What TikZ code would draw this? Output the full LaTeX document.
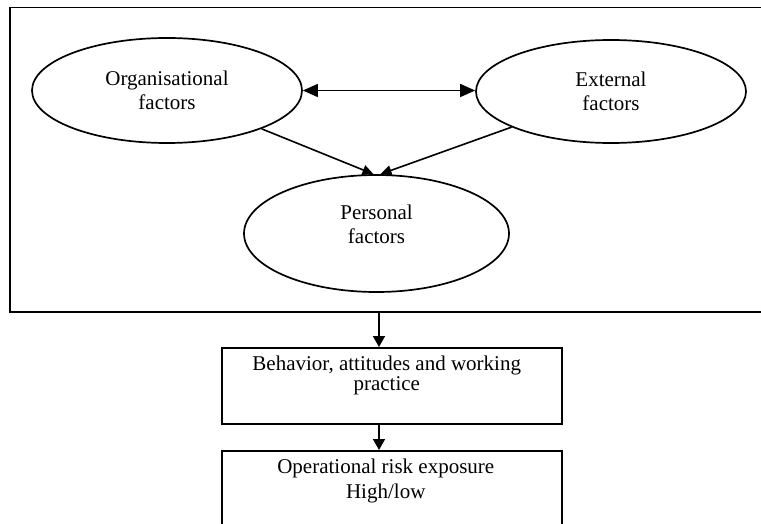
\documentclass[tikz,border=0pt]{standalone}
\usepackage{fontspec}
\setmainfont{Liberation Serif}
\usetikzlibrary{shapes.geometric,arrows.meta,calc}

\tikzset{
  x=1pt, y=-1pt,
  txt/.style={font=\fontsize{21}{24}\selectfont, inner sep=0pt},
  factor/.style={ellipse, draw, line width=1.7pt, inner sep=0pt, align=center,
                 font=\fontsize{21}{24}\selectfont},
  stage/.style={rectangle, draw, line width=1.5pt, inner sep=0pt, anchor=north west},
  link/.style={line width=1.6pt},
  midtip/.style={-{Triangle[length=11pt,width=12pt]}},
  smalltip/.style={-{Triangle[length=11pt,width=10pt]}},
}

\begin{document}
\begin{tikzpicture}
  \useasboundingbox (0,0) rectangle (761,524);

  % enclosing frame around the three factor groups
  \node[stage, minimum width=760pt, minimum height=304pt] (frame) at (9,7) {};

  % factor ellipses
  \node[factor, minimum width=270pt, minimum height=105pt] (org) at (167,90.5)
       {Organisational\\factors};
  \node[factor, minimum width=270pt, minimum height=103pt] (ext) at (611,91.5)
       {External\\factors};
  \node[factor, minimum width=265pt, minimum height=117pt] (pers) at (376.5,233.5) {};
  \node[txt, align=center] (perstext) at ($(pers.center)+(0,-9)$) {Personal\\factors};

  % interactions between the factors
  \draw[link, {Triangle[length=15pt,width=13pt]}-{Triangle[length=15pt,width=13pt]}]
       (org.east) -- (org.east -| ext.west);
  \draw[link, smalltip] (org) -- ($(pers.north)+(-3,0)$);
  \draw[link, smalltip] (ext) -- ($(pers.north)+(4,0)$);

  % outcome boxes
  \node[stage, minimum width=340pt, minimum height=76pt] (behav) at (221,347) {};
  \node[txt, anchor=base] (behav1) at ($(behav.north)+(-5,23)$) {Behavior, attitudes and working};
  \node[txt, anchor=base] (behav2) at ($(behav.north)+(-5,43)$) {practice};

  \node[stage, minimum width=340pt, minimum height=90pt] (risk) at (221,450) {};
  \node[txt, anchor=base] (risk1) at ($(risk.north)+(-6,23)$) {Operational risk exposure};
  \node[txt, anchor=base] (risk2) at ($(risk.north)+(-6,48)$) {High/low};

  % vertical flow
  \coordinate (axis) at (379,0);
  \draw[link, midtip] (frame.south -| axis) -- (behav.north -| axis);
  \draw[link, midtip] (behav.south -| axis) -- (risk.north -| axis);
\end{tikzpicture}
\end{document}
